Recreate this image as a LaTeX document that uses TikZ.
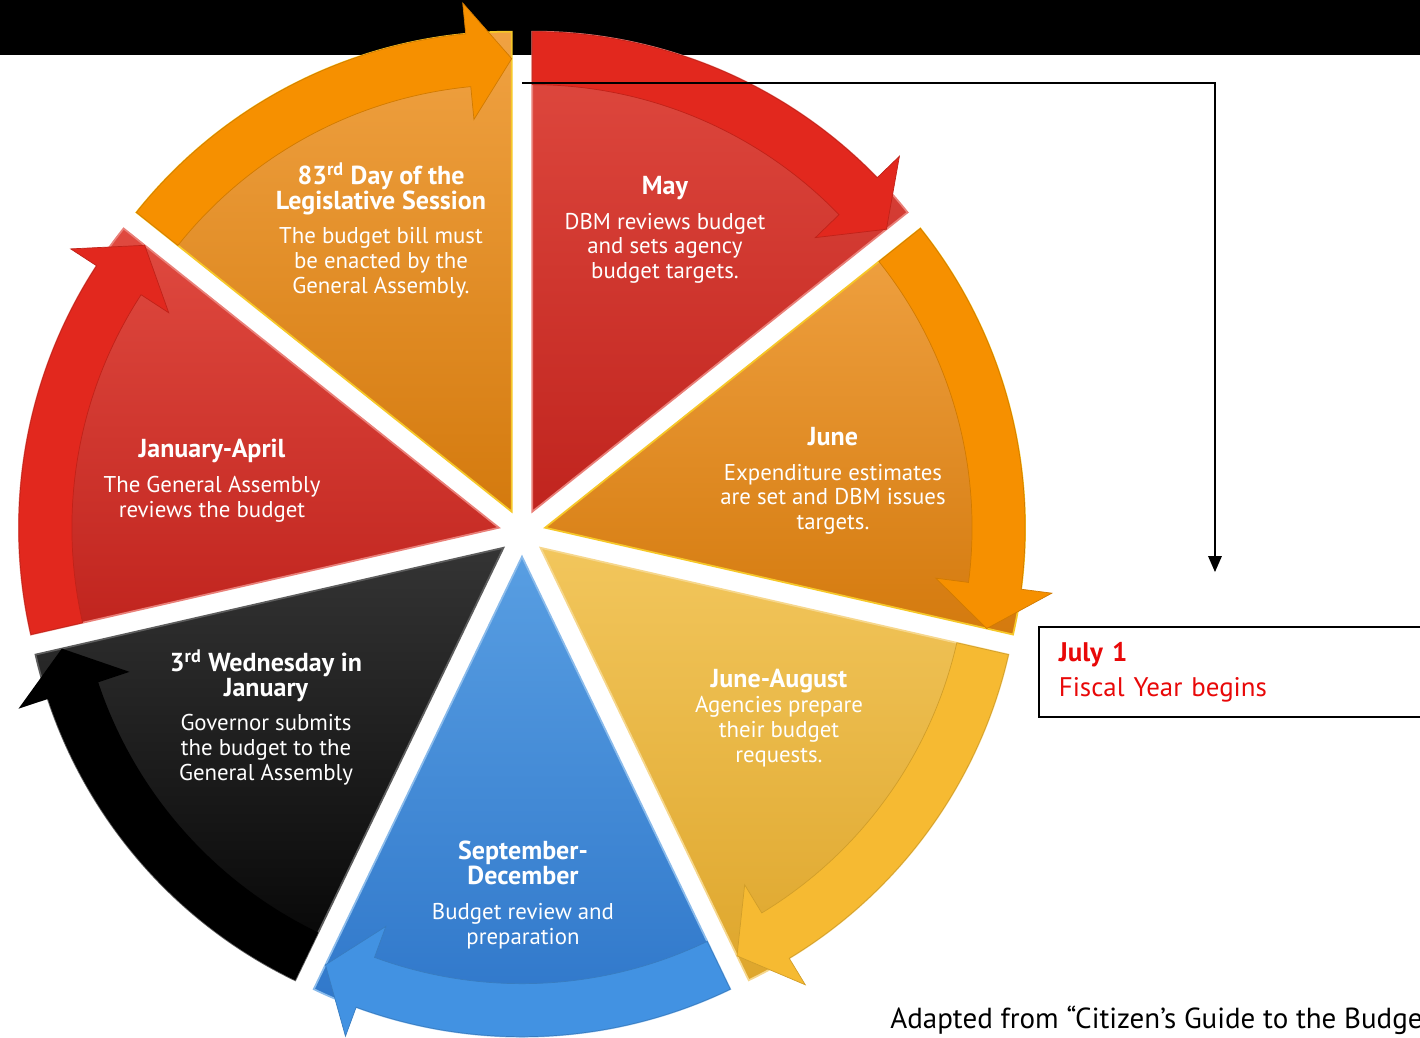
\documentclass[tikz,border=0pt]{standalone}
\usepackage{fontspec}
\setmainfont{PT Sans}
\usetikzlibrary{calc}

\definecolor{redtop}{RGB}{224,74,64}
\definecolor{redbot}{RGB}{192,36,30}
\definecolor{redband}{RGB}{226,40,30}
\definecolor{orangetop}{RGB}{240,162,66}
\definecolor{orangebot}{RGB}{212,122,14}
\definecolor{orangeband}{RGB}{246,144,0}
\definecolor{goldtop}{RGB}{242,198,92}
\definecolor{goldbot}{RGB}{222,166,44}
\definecolor{goldband}{RGB}{246,186,50}
\definecolor{bluetop}{RGB}{88,158,226}
\definecolor{bluebot}{RGB}{44,116,200}
\definecolor{blueband}{RGB}{66,146,226}
\definecolor{greytop}{RGB}{52,52,52}
\definecolor{greybot}{RGB}{4,4,4}
\definecolor{fiscalred}{RGB}{232,8,8}

\newcommand{\slicehead}[1]{{\fontsize{14.8}{14.2}\selectfont\bfseries #1}}

\begin{document}
\begin{tikzpicture}[scale=0.2]
\tikzstyle{every node}+=[inner sep=0pt]
\tikzstyle{slicetext}=[text=white, align=center, anchor=north, font=\fontsize{13}{14.2}\selectfont]
\tikzstyle{redslice}=[top color=redtop, bottom color=redbot, draw=redtop!70!white, line width=1pt]
\tikzstyle{orangeslice}=[top color=orangetop, bottom color=orangebot, draw=orangetop!60!yellow, line width=1pt]
\tikzstyle{goldslice}=[top color=goldtop, bottom color=goldbot, draw=goldtop!70!white, line width=1pt]
\tikzstyle{blueslice}=[top color=bluetop, bottom color=bluebot, draw=bluetop!70!white, line width=1pt]
\tikzstyle{blackslice}=[top color=greytop, bottom color=greybot, draw=greytop!80!white, line width=1pt]
\useasboundingbox (0,0) rectangle (142,-103.7);
\clip (0,0) rectangle (142,-103.7);
\fill [black] (0,0) rectangle (142,-5.5);
\coordinate (C) at (52.2,-53.3);
\coordinate (may) at ($(C)+(64.29:2.37)$);
\coordinate (june) at ($(C)+(12.86:2.37)$);
\coordinate (summer) at ($(C)+(-38.57:2.37)$);
\coordinate (autumn) at ($(C)+(-90:2.37)$);
\coordinate (wednesday) at ($(C)+(-141.43:2.37)$);
\coordinate (session) at ($(C)+(-192.86:2.37)$);
\coordinate (enact) at ($(C)+(115.71:2.37)$);
% May
\draw [redslice] (may) -- ($(may)+(90:48)$) arc (90:38.57:48) -- cycle;
\filldraw [fill=redband, draw=redband!85!black, line width=0.4pt] ($(may)+(90:48)$) arc (90:44.07:48) -- ($(may)+(44.07:51.1)$) -- ($(may)+(38.57:45.3)$) -- ($(may)+(44.07:39.4)$) -- ($(may)+(44.07:42.7)$) arc (44.07:90:42.7) -- cycle;
% June
\draw [orangeslice] (june) -- ($(june)+(38.57:48)$) arc (38.57:-12.86:48) -- cycle;
\filldraw [fill=orangeband, draw=orangeband!85!black, line width=0.4pt] ($(june)+(38.57:48)$) arc (38.57:-7.36:48) -- ($(june)+(-7.36:51.1)$) -- ($(june)+(-12.86:45.3)$) -- ($(june)+(-7.36:39.4)$) -- ($(june)+(-7.36:42.7)$) arc (-7.36:38.57:42.7) -- cycle;
% June-August
\draw [goldslice] (summer) -- ($(summer)+(-12.86:48)$) arc (-12.86:-64.29:48) -- cycle;
\filldraw [fill=goldband, draw=goldband!85!black, line width=0.4pt] ($(summer)+(-12.86:48)$) arc (-12.86:-58.79:48) -- ($(summer)+(-58.79:51.1)$) -- ($(summer)+(-64.29:45.3)$) -- ($(summer)+(-58.79:39.4)$) -- ($(summer)+(-58.79:42.7)$) arc (-58.79:-12.86:42.7) -- cycle;
% September-December
\draw [blueslice] (autumn) -- ($(autumn)+(-64.29:48)$) arc (-64.29:-115.71:48) -- cycle;
\filldraw [fill=blueband, draw=blueband!85!black, line width=0.4pt] ($(autumn)+(-64.29:48)$) arc (-64.29:-110.21:48) -- ($(autumn)+(-110.21:51.1)$) -- ($(autumn)+(-115.71:45.3)$) -- ($(autumn)+(-110.21:39.4)$) -- ($(autumn)+(-110.21:42.7)$) arc (-110.21:-64.29:42.7) -- cycle;
% 3rd Wednesday
\draw [blackslice] (wednesday) -- ($(wednesday)+(-115.71:48)$) arc (-115.71:-167.14:48) -- cycle;
\fill [black] ($(wednesday)+(-115.71:48)$) arc (-115.71:-161.64:48) -- ($(wednesday)+(-161.64:51.1)$) -- ($(wednesday)+(-167.14:45.3)$) -- ($(wednesday)+(-161.64:39.4)$) -- ($(wednesday)+(-161.64:42.7)$) arc (-161.64:-115.71:42.7) -- cycle;
% January-April
\draw [redslice] (session) -- ($(session)+(-167.14:48)$) arc (-167.14:-218.57:48) -- cycle;
\filldraw [fill=redband, draw=redband!85!black, line width=0.4pt] ($(session)+(-167.14:48)$) arc (-167.14:-213.07:48) -- ($(session)+(-213.07:51.1)$) -- ($(session)+(-218.57:45.3)$) -- ($(session)+(-213.07:39.4)$) -- ($(session)+(-213.07:42.7)$) arc (-213.07:-167.14:42.7) -- cycle;
% 83rd day
\draw [orangeslice] (enact) -- ($(enact)+(141.43:48)$) arc (141.43:90:48) -- cycle;
\filldraw [fill=orangeband, draw=orangeband!85!black, line width=0.4pt] ($(enact)+(141.43:48)$) arc (141.43:95.5:48) -- ($(enact)+(95.5:51.1)$) -- ($(enact)+(90:45.3)$) -- ($(enact)+(95.5:39.4)$) -- ($(enact)+(95.5:42.7)$) arc (95.5:141.43:42.7) -- cycle;
% labels
\node [slicetext] (enacttext) at (38.1,-16.2) {\slicehead{83\textsuperscript{rd} Day of the}\\\slicehead{Legislative Session}\\[5.4pt]The budget bill must\\be enacted by the\\General Assembly.};
\node [slicetext] (maytext) at (66.5,-17.6) {\slicehead{May}\\[5.4pt]DBM reviews budget\\and sets agency\\budget targets.};
\node [slicetext] (junetext) at (83.3,-42.7) {\slicehead{June}\\[5.4pt]Expenditure estimates\\are set and DBM issues\\targets.};
\node [slicetext] (summertext) at (77.9,-66.9) {\slicehead{June-August}\\Agencies prepare\\their budget\\requests.};
\node [slicetext] (autumntext) at (52.3,-84.1) {\slicehead{September-}\\\slicehead{December}\\[5.4pt]Budget review and\\preparation};
\node [slicetext] (wednesdaytext) at (26.6,-64.9) {\slicehead{3\textsuperscript{rd} Wednesday in}\\\slicehead{January}\\[5.4pt]Governor submits\\the budget to the\\General Assembly};
\node [slicetext] (sessiontext) at (21.2,-43.9) {\slicehead{January-April}\\[5.4pt]The General Assembly\\reviews the budget};
% fiscal year
\node [draw=black, line width=1pt, anchor=north west, minimum width=8.5cm, minimum height=1.8cm, text width=7.7cm, inner xsep=0.4cm, align=left, text=fiscalred, font=\fontsize{15.3}{19.9}\selectfont] (julybox) at (103.8,-62.6) {\textbf{July 1}\\Fiscal Year begins};
\coordinate (linestart) at (52.2,-8.3);
\coordinate (lineend) at (121.5,-57.2);
\draw [black, line width=1.1pt] (linestart) -| ($(lineend)+(0,1.2)$);
\fill [black] (lineend) -- ($(lineend)+(-0.7,1.6)$) -- ($(lineend)+(0.7,1.6)$);
\node [anchor=base west, font=\fontsize{16.5}{19.9}\selectfont] (source) at (89.0,-102.8) {Adapted from “Citizen’s Guide to the Budge};
\end{tikzpicture}
\end{document}
